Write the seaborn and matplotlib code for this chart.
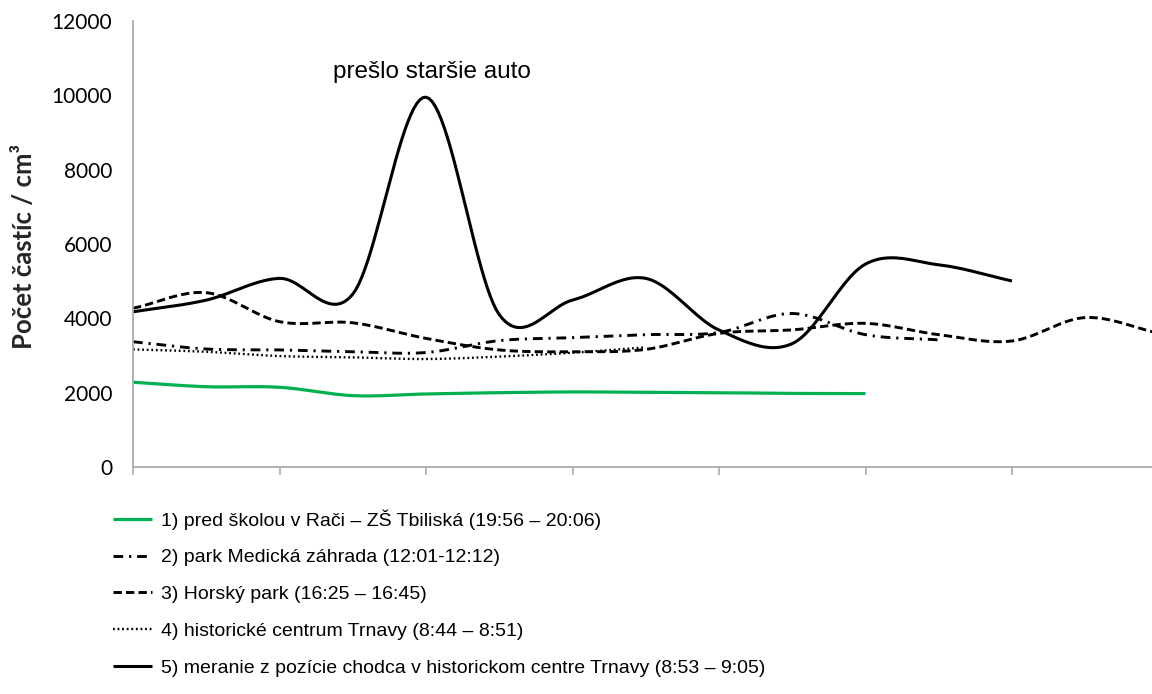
import numpy as np
import pandas as pd
import matplotlib
matplotlib.use("Agg")
import matplotlib.pyplot as plt
import seaborn as sns

# Particle counts per cm3, one reading per half step of the time axis
labels = [
    "1) pred školou v Rači – ZŠ Tbiliská (19:56 – 20:06)",
    "2) park Medická záhrada (12:01-12:12)",
    "3) Horský park (16:25 – 16:45)",
    "4) historické centrum Trnavy (8:44 – 8:51)",
    "5) meranie z pozície chodca v historickom centre Trnavy (8:53 – 9:05)",
]
raca = [2280, 2160, 2145, 1920, 1965, 2000, 2020, 2010, 2000, 1980, 1975]
medicka = [3370, 3175, 3150, 3100, 3080, 3400, 3480, 3560, 3620, 4130, 3560, 3420]
horsky = [4270, 4690, 3910, 3880, 3460, 3150, 3100, 3165, 3595, 3690, 3865, 3560, 3390, 4020, 3600]
trnava = [3165, 3100, 2985, 2950, 2905, 2970, 3075, 3220]
chodec = [4175, 4490, 5075, 4650, 9950, 4100, 4490, 5075, 3685, 3320, 5460, 5440, 5005]
series = [raca, medicka, horsky, trnava, chodec]

note_text = "prešlo staršie auto"
y_label = "Počet častíc / cm³"
y_ticks = [0, 2000, 4000, 6000, 8000, 10000, 12000]


def smooth(values, n=24):
    """Cubic Hermite smoothing through every reading (Catmull-Rom tangents)."""
    p = np.asarray(values, dtype=float)
    x = np.arange(len(p), dtype=float)
    xs, ys = [], []
    for i in range(len(p) - 1):
        m0 = (p[i + 1] - p[i - 1]) / 2 if i > 0 else (p[i + 1] - p[i])
        m1 = (p[i + 2] - p[i]) / 2 if i + 2 < len(p) else (p[i + 1] - p[i])
        t = np.linspace(0, 1, n, endpoint=False)
        h00 = 2 * t**3 - 3 * t**2 + 1
        h10 = t**3 - 2 * t**2 + t
        h01 = -2 * t**3 + 3 * t**2
        h11 = t**3 - t**2
        xs.append(x[i] + t)
        ys.append(h00 * p[i] + h10 * m0 + h01 * p[i + 1] + h11 * m1)
    xs.append([x[-1]])
    ys.append([p[-1]])
    return np.concatenate(xs), np.concatenate(ys)


sns.set_theme(style="white")
plt.rcParams["font.family"] = ["Liberation Sans", "DejaVu Sans"]
plt.rcParams["lines.scale_dashes"] = False
plt.rcParams["text.color"] = "black"
plt.rcParams["ytick.labelcolor"] = "black"

legend_size = 14.0

fig = plt.figure(figsize=(11.52, 6.94), dpi=100)
W, H = 1152, 694
x0, x1, ytop, ybot = 133, 133 + 14 * 73.25, 21, 467
ax = fig.add_axes([x0 / W, 1 - ybot / H, (x1 - x0) / W, (ybot - ytop) / H])

styles = [
    dict(color="#00B050", lw=2.3, linestyle="-"),
    dict(color="black", lw=2.1, linestyle=(0, (7.0, 4.2, 1.6, 4.2))),
    dict(color="black", lw=2.1, linestyle=(0, (6.0, 3.0))),
    dict(color="black", lw=1.7, linestyle=(0, (1.3, 2.0))),
    dict(color="black", lw=2.2, linestyle="-"),
]

for lab, vals, st in zip(labels, series, styles):
    xs, ys = smooth(vals)
    df = pd.DataFrame({"x": xs, "y": ys})
    sns.lineplot(data=df, x="x", y="y", ax=ax, sort=False, estimator=None,
                 label=lab, color=st["color"], linewidth=st["lw"],
                 linestyle=st["linestyle"], solid_capstyle="butt",
                 dash_capstyle="butt")

ax.set_xlim(0, 14)
ax.set_ylim(0, 12000)
ax.set_yticks(y_ticks)
ax.set_yticklabels([str(v) for v in y_ticks], family=["Lato", "DejaVu Sans"], fontsize=15,
                   color="black")
ax.set_xticks(np.arange(0, 15, 2))
ax.set_xticklabels([])
ax.set_xlabel("")
ax.set_ylabel("")
ax.tick_params(axis="y", length=0, pad=15)
ax.tick_params(axis="x", length=6, width=1.2, color="#ABABAB", direction="out", bottom=True)
for side in ["top", "right"]:
    ax.spines[side].set_visible(False)
for side in ["left", "bottom"]:
    ax.spines[side].set_color("#ABABAB")
    ax.spines[side].set_linewidth(1.3)

fig.text(24 / W, 1 - 246 / H, y_label, rotation=90, ha="center", va="center",
         fontsize=18.5, fontweight="bold", family=["Lato", "DejaVu Sans"], color="#262626")

ax.annotate(note_text, xy=(4, 9950), xytext=(432 / W, 1 - 72 / H), textcoords="figure fraction",
            ha="center", va="center", fontsize=17.5, color="black")

ax.get_legend().remove()
handles, labs = ax.get_legend_handles_labels()
fs_px = legend_size * 100 / 72
fig.legend(handles, labs, loc="upper left", bbox_to_anchor=(113 / W, 1 - 509 / H),
           frameon=False, prop={"family": "Liberation Sans", "size": legend_size},
           labelcolor="black", handlelength=39 / fs_px, handletextpad=9 / fs_px,
           labelspacing=0.99, borderpad=0, borderaxespad=0)

fig.savefig("out.png", dpi=100)
